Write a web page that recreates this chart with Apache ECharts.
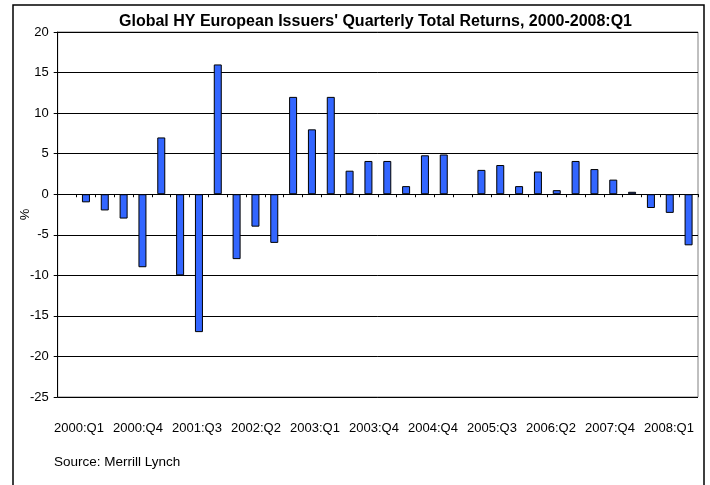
<!DOCTYPE html>
<html>
<head>
<meta charset="UTF-8">
<title>Global HY European Issuers' Quarterly Total Returns</title>
<script src="https://cdn.jsdelivr.net/npm/echarts@6/dist/echarts.min.js"></script>
<style>
  html, body { margin: 0; padding: 0; background: #fff; }
  #chart { width: 710px; height: 485px; }
</style>
</head>
<body>
<div id="chart"></div>
<script>
// quarters 2000:Q1 .. 2008:Q1 (first slot of the axis is left empty, as in the original)
var quarters = [
  '2000:Q1','2000:Q2','2000:Q3','2000:Q4',
  '2001:Q1','2001:Q2','2001:Q3','2001:Q4',
  '2002:Q1','2002:Q2','2002:Q3','2002:Q4',
  '2003:Q1','2003:Q2','2003:Q3','2003:Q4',
  '2004:Q1','2004:Q2','2004:Q3','2004:Q4',
  '2005:Q1','2005:Q2','2005:Q3','2005:Q4',
  '2006:Q1','2006:Q2','2006:Q3','2006:Q4',
  '2007:Q1','2007:Q2','2007:Q3','2007:Q4',
  '2008:Q1'
];
// 2005:Q1 has no visible bar
var returns = [
  -1, -2, -3, -9,
  7, -10, -17, 16,
  -8, -4, -6, 12,
  8, 12, 2.9, 4.1,
  4.1, 1, 4.8, 4.9,
  null, 3, 3.6, 1,
  2.8, 0.5, 4.1, 3.1,
  1.8, 0.3, -1.7, -2.3,
  -6.3
];
// the text labels printed under the chart
var tickLabels = ['2000:Q1','2000:Q4','2001:Q3','2002:Q2','2003:Q1','2003:Q4',
                  '2004:Q4','2005:Q3','2006:Q2','2007:Q4','2008:Q1'];

var categories = [''].concat(quarters);
var values = [null].concat(returns);

var font = 'Arial, "Liberation Sans", sans-serif';
var chart = echarts.init(document.getElementById('chart'));
chart.setOption({
  animation: false,
  title: [{
    text: "Global HY European Issuers' Quarterly Total Returns, 2000-2008:Q1",
    left: 114, top: 9,
    textStyle: { fontFamily: font, fontSize: 16, fontWeight: 'bold', color: '#000' }
  }, {
    text: 'Source: Merrill Lynch',
    left: 49, top: 450,
    textStyle: { fontFamily: font, fontSize: 13.5, fontWeight: 'normal', color: '#000' }
  }],
  graphic: [{
    type: 'rect',
    shape: { x: 13, y: 5, width: 691, height: 500 },
    style: { fill: 'none', stroke: '#000', lineWidth: 1.5 },
    silent: true
  }],
  grid: [
    { left: 57.7, right: 12, top: 32, bottom: 88, show: true, borderColor: '#808080', borderWidth: 1 },
    { left: 49.5, right: 11.5, top: 405, height: 10 }
  ],
  xAxis: [{
    type: 'category',
    data: categories,
    gridIndex: 0,
    axisLine: { onZero: true, lineStyle: { color: '#000', width: 1 } },
    axisTick: { show: true, interval: 0, length: 3, lineStyle: { color: '#000' } },
    axisLabel: { show: false }
  }, {
    type: 'category',
    data: tickLabels,
    gridIndex: 1,
    axisLine: { show: false },
    axisTick: { show: false },
    axisLabel: { interval: 0, margin: 7, fontFamily: font, fontSize: 13, color: '#000' }
  }],
  yAxis: [{
    type: 'value',
    gridIndex: 0,
    min: -25, max: 20, interval: 5,
    name: '%',
    nameLocation: 'middle',
    nameGap: 26,
    nameRotate: 90,
    nameMoveOverlap: false,
    nameTextStyle: { fontFamily: font, fontSize: 13, color: '#000' },
    axisLine: { show: true, lineStyle: { color: '#000' } },
    axisTick: { show: true, length: 4, lineStyle: { color: '#000' } },
    axisLabel: { margin: 9, fontFamily: font, fontSize: 13, color: '#000' },
    splitLine: { lineStyle: { color: '#000', width: 1 } }
  }, {
    type: 'value',
    gridIndex: 1,
    show: false
  }],
  series: [{
    type: 'bar',
    xAxisIndex: 0,
    yAxisIndex: 0,
    data: values,
    barWidth: 8,
    itemStyle: { color: '#3366FF', borderColor: '#000', borderWidth: 1 }
  }]
});
</script>
</body>
</html>
